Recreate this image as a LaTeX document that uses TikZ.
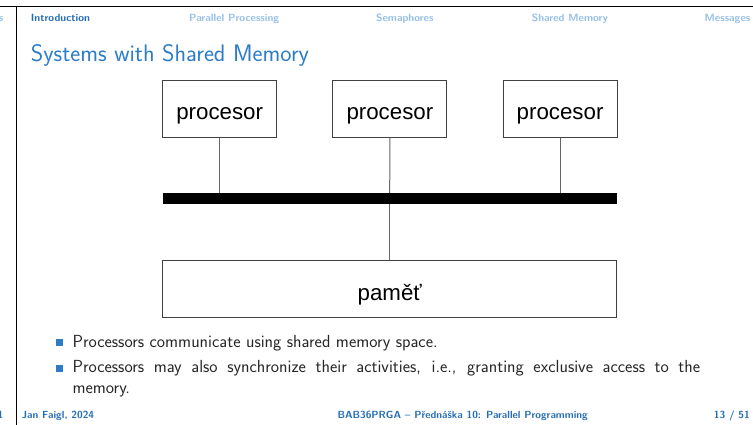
\documentclass[tikz,border=0pt]{standalone}
\usepackage{fontspec}
\usepackage{tikz}
\usepackage{xcolor}
\newfontfamily\diafont{Liberation Sans}
\definecolor{slideblue}{RGB}{44,124,200}
\definecolor{navlight}{RGB}{150,192,232}
\definecolor{navdark}{RGB}{38,110,180}
\tikzstyle{procbox} = [rectangle, draw=black!75, line width=1pt, minimum width=114pt, minimum height=56.6pt, text height=20.6pt, text depth=0pt, font=\diafont\fontsize{22.3}{24}\selectfont]
\tikzstyle{membox} = [rectangle, draw=black!75, line width=1pt, minimum width=454pt, minimum height=57.3pt, text height=24pt, text depth=0pt, font=\diafont\fontsize{22.3}{24}\selectfont]
\tikzstyle{busbar} = [rectangle, fill=black, minimum width=454pt, minimum height=10.7pt, inner sep=0pt]
\tikzstyle{wire} = [draw=black!60, line width=1pt]
\tikzstyle{navtext} = [anchor=base west, inner sep=0pt, text=navlight, font=\sffamily\bfseries\fontsize{10.5}{12}\selectfont]
\tikzstyle{foottext} = [anchor=base west, inner sep=0pt, text=navdark, font=\sffamily\bfseries\fontsize{10.3}{12}\selectfont]
\tikzstyle{bodytext} = [anchor=base west, inner sep=0pt, text=black!85, font=\sffamily\fontsize{17.5}{21}\selectfont]
\tikzstyle{bulletbox} = [rectangle, fill=slideblue, minimum size=7pt, inner sep=0pt]

\begin{document}
\begin{tikzpicture}[x=1pt, y=-1pt, node distance=170.2pt]
\useasboundingbox (0,0) rectangle (753,425);
\fill[white] (0,0) rectangle (753,425);
% frame
\draw[line width=1.3pt] (-2,6.7) -- (755,6.7);
\draw[line width=1pt] (16,6.7) -- (16,427);

% navigation
\node (navcut) [navtext, anchor=base east] at (3.5,21.5) {s};
\node (navintro) [navtext, text=navdark] at (30.7,21.5) {Introduction};
\node (navpar) [navtext] at (189,21.5) {Parallel Processing};
\node (navsem) [navtext] at (376,21.5) {Semaphores};
\node (navshm) [navtext] at (531.7,21.5) {Shared Memory};
\node (navmsg) [navtext, anchor=base east] at (750.5,21.5) {Messages};

\node (title) [anchor=base west, inner sep=0pt, text=slideblue, font=\sffamily\fontsize{23.9}{26}\selectfont] at (30.7,61.5) {Systems with Shared Memory};

% processors, bus, memory
\node (p1) [procbox] at (219.7,109) {procesor};
\node (p2) [procbox, right of=p1] {procesor};
\node (p3) [procbox, right of=p2] {procesor};
\node (bus) [busbar] at (389.7,198.7) {};
\node (mem) [membox] at (389.7,288.7) {paměť};

\draw [wire] (p1.south) -- (p1.south |- bus.north);
\draw [wire] (p2.south) -- (bus.north);
\draw [wire] (p3.south) -- (p3.south |- bus.north);
\draw [wire] (bus.south) -- (mem.north);

% bullets
\node (bul1) [bulletbox] at (59.2,342.5) {};
\node (txt1) [bodytext] at (72.3,347) {Processors communicate using shared memory space.};
\node (bul2) [bulletbox] at (59.2,368) {};
\node (txt2) [bodytext, text width=627.7pt, align=justify] at (72.3,372.5) {Processors may also synchronize their activities, i.e., granting exclusive access to the\linebreak memory.};

% footer
\node (footcut) [foottext, anchor=base east] at (3.5,418) {1};
\node (footauth) [foottext] at (21.7,418) {Jan Faigl, 2024};
\node (footlec) [foottext] at (337.3,418) {BAB36PRGA -- Přednáška 10: Parallel Programming};
\node (footpage) [foottext, anchor=base east] at (750,418) {13 / 51};
\end{tikzpicture}
\end{document}
